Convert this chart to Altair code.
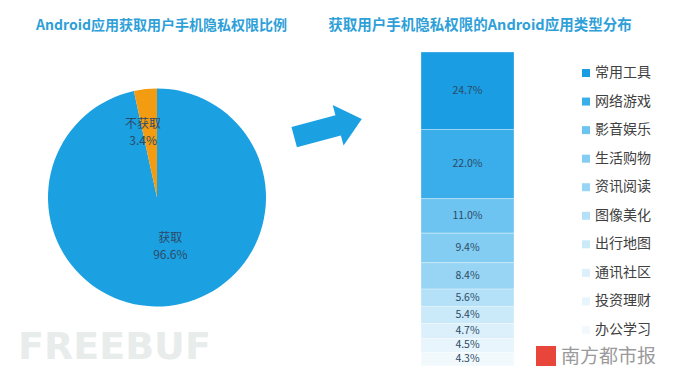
import altair as alt
import pandas as pd

FONT = "Noto Sans CJK SC"

# ---- data ----
pie_labels = ["获取", "不获取"]
pie_values = [96.6, 3.4]
pie_colors = ["#1ba1e2", "#f39c12"]

categories = ["常用工具", "网络游戏", "影音娱乐", "生活购物", "资讯阅读",
              "图像美化", "出行地图", "通讯社区", "投资理财", "办公学习"]
shares = [24.7, 22.0, 11.0, 9.4, 8.4, 5.6, 5.4, 4.7, 4.5, 4.3]
bar_colors = ["#1a9de2", "#3aaeea", "#6ec4f0", "#84cdf2", "#98d5f4",
              "#b4e1f7", "#cae9f9", "#dbf0fa", "#e8f5fc", "#f2f9fd"]

title_left = "Android应用获取用户手机隐私权限比例"
title_right = "获取用户手机隐私权限的Android应用类型分布"

# ---- pie ----
pie_df = pd.DataFrame({"label": pie_labels, "value": pie_values,
                       "idx": list(range(len(pie_labels)))})
pie_df["text"] = [f"{l}\n{v:.1f}%" for l, v in zip(pie_labels, pie_values)]

CX, CY = 149, 189.5
theta = alt.Theta("value:Q", stack=True)
order = alt.Order("idx:Q")

pie = alt.Chart(pie_df).mark_arc(radius=109).encode(
    theta=theta, order=order,
    color=alt.Color("label:N", scale=alt.Scale(domain=pie_labels, range=pie_colors), legend=None),
    x=alt.value(CX), y=alt.value(CY),
)


def pie_text(which, r, dx):
    return alt.Chart(pie_df).mark_text(
        radius=r, dx=dx, lineBreak="\n", lineHeight=17, fontSize=12,
        color="#2b4a66", font=FONT, baseline="middle", align="center",
    ).encode(
        theta=theta, order=order,
        text=alt.condition(f"datum.label == '{which}'", alt.Text("text:N"), alt.value("")),
        x=alt.value(CX), y=alt.value(CY),
    )


pie_layer = alt.layer(pie, pie_text("获取", 41, 9), pie_text("不获取", 74, -6))

# ---- stacked bar ----
bar_df = pd.DataFrame({"cat": categories, "share": shares,
                       "idx": list(range(len(categories))), "group": "apps"})
base = alt.Chart(bar_df).transform_stack(
    stack="share", groupby=["group"], as_=["y0", "y1"],
    sort=[alt.SortField("idx", order="ascending")],
).transform_calculate(
    mid="(datum.y0 + datum.y1) / 2",
    lab="format(datum.share, '.1f') + '%'",
)
xenc = alt.X("group:N", scale=alt.Scale(range=[413, 506], paddingInner=0, paddingOuter=0), axis=None)
yscale = alt.Scale(domain=[0, 100], range=[44, 358], nice=False, zero=False)
cscale = alt.Scale(domain=categories, range=bar_colors)

bars = base.mark_bar(stroke="#ffffff", strokeWidth=0.5, strokeOpacity=0.6).encode(
    x=xenc,
    y=alt.Y("y0:Q", scale=yscale, axis=None),
    y2="y1:Q",
    color=alt.Color("cat:N", scale=cscale, legend=None),
)
bar_labels = base.mark_text(fontSize=10.5, color="#2b4a66", font=FONT).encode(
    x=xenc,
    y=alt.Y("mid:Q", scale=yscale, axis=None),
    text="lab:N",
)
bar_layer = alt.layer(bars, bar_labels)

# ---- legend ----
leg_df = pd.DataFrame({"cat": categories})
yleg = alt.Y("cat:N", sort=categories,
             scale=alt.Scale(type="point", range=[65, 322], padding=0), axis=None)
leg_sq = alt.Chart(leg_df).mark_square(size=64, opacity=1).encode(
    x=alt.value(578), y=yleg,
    color=alt.Color("cat:N", scale=cscale, legend=None),
)
leg_txt = alt.Chart(leg_df).mark_text(align="left", fontSize=14, color="#404040", font=FONT).encode(
    x=alt.value(587), y=yleg, text="cat:N",
)
legend_layer = alt.layer(leg_sq, leg_txt)

# ---- titles, arrow, watermarks ----
one = pd.DataFrame({"t": [0]})
t_left = alt.Chart(pd.DataFrame({"t": [title_left]})).mark_text(
    fontSize=14, fontWeight="bold", color="#2e9fd8", font=FONT).encode(
    text="t:N", x=alt.value(153.5), y=alt.value(18))
t_right = alt.Chart(pd.DataFrame({"t": [title_right]})).mark_text(
    fontSize=14.5, fontWeight="bold", color="#2e9fd8", font=FONT).encode(
    text="t:N", x=alt.value(472), y=alt.value(18))

arrow_path = "M-1,-0.3L0.3,-0.3L0.3,-0.6L1,0L0.3,0.6L0.3,0.3L-1,0.3Z"
arrow = alt.Chart(one).mark_point(
    shape=arrow_path, filled=True, size=4900, angle=345, color="#1ba1e2", opacity=1, strokeWidth=0
).encode(x=alt.value(320), y=alt.value(120))

wm1 = alt.Chart(pd.DataFrame({"t": ["FREEBUF"]})).mark_text(
    fontSize=38, fontWeight="bold", color="#e8ecea", font="DejaVu Sans", align="left").encode(
    text="t:N", x=alt.value(10), y=alt.value(340))
logo = alt.Chart(one).mark_square(size=400, color="#e8463a", opacity=1).encode(
    x=alt.value(538), y=alt.value(348))
wm2 = alt.Chart(pd.DataFrame({"t": ["南方都市报"]})).mark_text(
    fontSize=19, color="#9a9a9a", font=FONT, align="left").encode(
    text="t:N", x=alt.value(553), y=alt.value(349))

deco_layer = alt.layer(t_left, t_right, arrow, wm1, logo, wm2)

chart = alt.layer(pie_layer, bar_layer, legend_layer, deco_layer).resolve_scale(
    x="independent", y="independent", color="independent", theta="independent"
).properties(
    width=674, height=360, padding=0,
    autosize=alt.AutoSizeParams(type="none"),
).configure_view(stroke=None)

chart.save("out.html", embed_options={"renderer": "svg", "actions": False})
